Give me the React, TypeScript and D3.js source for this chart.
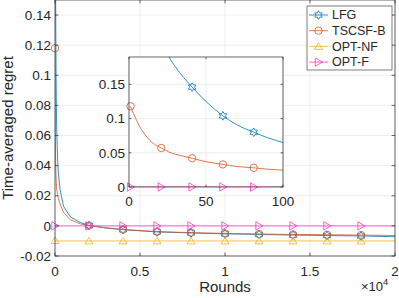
import React from 'react';
import * as d3 from 'd3';

// rounds (x) shared by every series
const T = [1, 2, 3, 5, 7, 9, 12, 15, 21, 26, 30, 41, 50, 61, 70, 81, 90, 100, 150, 200, 300, 500, 900, 1500,
  2001, 3000, 4001, 6001, 8001, 10001, 12001, 14001, 16001, 18001, 20000];

const LFG = [1.0, 0.75, 0.6, 0.45, 0.37, 0.32, 0.27, 0.24, 0.215, 0.19, 0.176, 0.146, 0.125, 0.104, 0.091, 0.08, 0.072, 0.065,
  0.045, 0.035, 0.024, 0.013, 0.006, 0.0022,
  0.0003, -0.0014, -0.0025, -0.004, -0.0047, -0.0053, -0.0057, -0.0061, -0.0064, -0.0067, -0.0072];
const TSCSF_B = [0.118, 0.112, 0.107, 0.097, 0.088, 0.081, 0.072, 0.065, 0.057, 0.051, 0.048, 0.042, 0.037, 0.033, 0.03, 0.028, 0.026, 0.0245,
  0.021, 0.018, 0.0145, 0.009, 0.004, 0.0013,
  0.0002, -0.0013, -0.0024, -0.0038, -0.0045, -0.005, -0.0054, -0.0057, -0.0059, -0.0061, -0.0064];
const OPT_NF = [-0.0097, -0.0099, -0.01, -0.01, -0.01, -0.01, -0.01, -0.01, -0.01, -0.01, -0.01, -0.01, -0.01, -0.01, -0.01, -0.01, -0.01, -0.01,
  -0.01, -0.01, -0.01, -0.01, -0.01, -0.01,
  -0.01, -0.01, -0.01, -0.01, -0.01, -0.01, -0.01, -0.01, -0.01, -0.01, -0.01];
const OPT_F = [0, 0, 0, 0, 0, 0, 0, 0, 0, 0, 0, 0, 0, 0, 0, 0, 0, 0,
  0, 0, 0, 0, 0, 0,
  0, 0, 0, 0, 0, 0, 0, 0, 0, 0, 0];

const SERIES_NAMES = ['LFG', 'TSCSF-B', 'OPT-NF', 'OPT-F'];
const SERIES_VALUES = [LFG, TSCSF_B, OPT_NF, OPT_F];

const MAIN_MARKS = [1, 2001, 4001, 6001, 8001, 10001, 12001, 14001, 16001, 18001];
const INSET_MARKS = [1, 21, 41, 61, 81];

const MAIN_X_TICKS = [0, 5000, 10000, 15000, 20000];
const MAIN_X_LABELS = ['0', '0.5', '1', '1.5', '2'];
const MAIN_Y_TICKS = [-0.02, 0, 0.02, 0.04, 0.06, 0.08, 0.1, 0.12, 0.14];
const MAIN_Y_LABELS = ['-0.02', '0', '0.02', '0.04', '0.06', '0.08', '0.1', '0.12', '0.14'];
const INSET_X_TICKS = [0, 50, 100];
const INSET_X_LABELS = ['0', '50', '100'];
const INSET_Y_TICKS = [0, 0.05, 0.1, 0.15];
const INSET_Y_LABELS = ['0', '0.05', '0.1', '0.15'];

const COLORS = ['#0072BD', '#D95319', '#EDB120', '#FF33CC'];
const MARKERS = ['hexagram', 'circle', 'up', 'right'];
const FONT = '"Liberation Sans", Arial, Helvetica, sans-serif';
const AX = '#262626';
const GRID = '#e3e3e3';

function markerPath(kind: string, cx: number, cy: number): string {
  if (kind === 'circle') {
    const p = d3.path();
    p.arc(cx, cy, 3.7, 0, Math.PI * 2);
    return p.toString();
  }
  if (kind === 'up') return `M${cx},${cy - 3.6}L${cx + 4},${cy + 3}L${cx - 4},${cy + 3}Z`;
  if (kind === 'right') return `M${cx + 3.8},${cy}L${cx - 3.2},${cy - 4.2}L${cx - 3.2},${cy + 4.2}Z`;
  // six pointed star
  const pts: string[] = [];
  const ro = 4.3, ri = ro / Math.sqrt(3);
  for (let k = 0; k < 12; k++) {
    const a = -Math.PI / 2 + (k * Math.PI) / 6;
    const r = k % 2 === 0 ? ro : ri;
    pts.push(`${cx + r * Math.cos(a)},${cy + r * Math.sin(a)}`);
  }
  return 'M' + pts.join('L') + 'Z';
}

export default function App() {
  // main axes
  const x = d3.scaleLinear().domain([0, 20000]).range([55, 395]);
  const y = d3.scaleLinear().domain([-0.02, 0.15]).range([256, 0]);
  // inset axes
  const ix = d3.scaleLinear().domain([0, 100]).range([129, 283]);
  const iy = d3.scaleLinear().domain([0, 0.19]).range([187, 57]);

  const mainLine = d3.line<number>().x((_, i) => x(T[i])).y((d) => y(d));
  const insetIdx = T.map((t, i) => i).filter((i) => T[i] <= 100);
  const insetLine = d3.line<number>().x((i) => ix(T[i])).y((i) => iy(0)).curve(d3.curveMonotoneX);

  const [x0, x1] = x.range();
  const [y0, y1] = y.range();
  const [ix0, ix1] = ix.range();
  const [iy0, iy1] = iy.range();
  const tick = 3.4, itick = 2.4;

  return (
    <svg width={399} height={298} style={{ position: 'absolute', left: 0, top: 0, background: '#fff' }}
      fontFamily={FONT}>
      <defs>
        <clipPath id="mainClip"><rect x={x0} y={y1} width={x1 - x0} height={y0 - y1} /></clipPath>
        <clipPath id="insetClip"><rect x={ix0} y={iy1} width={ix1 - ix0} height={iy0 - iy1} /></clipPath>
      </defs>
      <rect x={0} y={0} width={399} height={298} fill="#fff" />
      {/* main grid */}
      {MAIN_X_TICKS.map((t) => <line key={'gx' + t} x1={x(t)} x2={x(t)} y1={y0} y2={y1} stroke={GRID} strokeWidth={0.6} />)}
      {MAIN_Y_TICKS.map((t) => <line key={'gy' + t} x1={x0} x2={x1} y1={y(t)} y2={y(t)} stroke={GRID} strokeWidth={0.6} />)}

      {/* main series */}
      <g clipPath="url(#mainClip)">
        {SERIES_VALUES.map((vals, s) => (
          <path key={'ml' + s} d={mainLine(vals) || ''} fill="none" stroke={COLORS[s]} strokeWidth={0.8} />
        ))}
      </g>
      {SERIES_VALUES.map((vals, s) => (
        <g key={'mm' + s}>
          {T.map((t, i) => (MAIN_MARKS.includes(t) && vals[i] <= 0.15 && vals[i] >= -0.02)
            ? <path key={i} d={markerPath(MARKERS[s], x(t), y(vals[i]))} fill="none" stroke={COLORS[s]} strokeWidth={0.8} />
            : null)}
        </g>
      ))}

      {/* main box + ticks */}
      <rect x={x0} y={y1} width={x1 - x0} height={y0 - y1} fill="none" stroke={AX} strokeWidth={0.7} />
      {MAIN_X_TICKS.map((t) => (
        <g key={'tx' + t}>
          <line x1={x(t)} x2={x(t)} y1={y0} y2={y0 - tick} stroke={AX} strokeWidth={0.7} />
          <line x1={x(t)} x2={x(t)} y1={y1} y2={y1 + tick} stroke={AX} strokeWidth={0.7} />
        </g>
      ))}
      {MAIN_Y_TICKS.map((t) => (
        <g key={'ty' + t}>
          <line x1={x0} x2={x0 + tick} y1={y(t)} y2={y(t)} stroke={AX} strokeWidth={0.7} />
          <line x1={x1} x2={x1 - tick} y1={y(t)} y2={y(t)} stroke={AX} strokeWidth={0.7} />
        </g>
      ))}
      {MAIN_X_TICKS.map((t, i) => (
        <text key={'lx' + t} x={x(t)} y={276} textAnchor="middle" fontSize={13.5} fill={AX}>{MAIN_X_LABELS[i]}</text>
      ))}
      {MAIN_Y_TICKS.map((t, i) => (
        <text key={'ly' + t} x={x0 - 4} y={y(t)} dy="0.35em" textAnchor="end" fontSize={13.5} fill={AX}>{MAIN_Y_LABELS[i]}</text>
      ))}
      <text x={(x0 + x1) / 2} y={292} textAnchor="middle" fontSize={15} fill={AX}>Rounds</text>
      <text transform={`translate(13,${(y0 + y1) / 2}) rotate(-90)`} textAnchor="middle" fontSize={15} fill={AX}>Time-averaged regret</text>
      <text x={361} y={291} fontSize={13} fill={AX}>×10<tspan dy={-6} fontSize={9.5}>4</tspan></text>

      {/* inset */}
      <rect x={ix0} y={iy1} width={ix1 - ix0} height={iy0 - iy1} fill="#fff" />
      {INSET_X_TICKS.map((t) => <line key={'igx' + t} x1={ix(t)} x2={ix(t)} y1={iy0} y2={iy1} stroke={GRID} strokeWidth={0.6} />)}
      {INSET_Y_TICKS.map((t) => <line key={'igy' + t} x1={ix0} x2={ix1} y1={iy(t)} y2={iy(t)} stroke={GRID} strokeWidth={0.6} />)}
      <g clipPath="url(#insetClip)">
        {SERIES_VALUES.map((vals, s) => (
          <path key={'il' + s}
            d={insetLine.y((i) => iy(vals[i]))(insetIdx) || ''}
            fill="none" stroke={COLORS[s]} strokeWidth={0.8} />
        ))}
      </g>
      {SERIES_VALUES.map((vals, s) => (
        <g key={'im' + s}>
          {T.map((t, i) => (INSET_MARKS.includes(t) && vals[i] <= 0.19 && vals[i] >= 0)
            ? <path key={i} d={markerPath(MARKERS[s], ix(t), iy(vals[i]))} fill="none" stroke={COLORS[s]} strokeWidth={0.8} />
            : null)}
        </g>
      ))}
      <rect x={ix0} y={iy1} width={ix1 - ix0} height={iy0 - iy1} fill="none" stroke={AX} strokeWidth={0.7} />
      {INSET_X_TICKS.map((t) => (
        <g key={'itx' + t}>
          <line x1={ix(t)} x2={ix(t)} y1={iy0} y2={iy0 - itick} stroke={AX} strokeWidth={0.7} />
          <line x1={ix(t)} x2={ix(t)} y1={iy1} y2={iy1 + itick} stroke={AX} strokeWidth={0.7} />
        </g>
      ))}
      {INSET_Y_TICKS.map((t) => (
        <g key={'ity' + t}>
          <line x1={ix0} x2={ix0 + itick} y1={iy(t)} y2={iy(t)} stroke={AX} strokeWidth={0.7} />
          <line x1={ix1} x2={ix1 - itick} y1={iy(t)} y2={iy(t)} stroke={AX} strokeWidth={0.7} />
        </g>
      ))}
      {INSET_X_TICKS.map((t, i) => (
        <text key={'ilx' + t} x={ix(t)} y={206} textAnchor="middle" fontSize={13.5} fill={AX}>{INSET_X_LABELS[i]}</text>
      ))}
      {INSET_Y_TICKS.map((t, i) => (
        <text key={'ily' + t} x={ix0 - 4} y={iy(t)} dy="0.35em" textAnchor="end" fontSize={13.5} fill={AX}>{INSET_Y_LABELS[i]}</text>
      ))}

      {/* legend */}
      <rect x={307} y={6} width={85} height={64} fill="#fff" stroke={AX} strokeWidth={0.6} />
      {SERIES_NAMES.map((name, s) => {
        const ly = 15 + s * 15.7;
        return (
          <g key={'lg' + s}>
            <line x1={309} x2={328} y1={ly} y2={ly} stroke={COLORS[s]} strokeWidth={0.8} />
            <path d={markerPath(MARKERS[s], 318.5, ly)} fill="none" stroke={COLORS[s]} strokeWidth={0.8} />
            <text x={332} y={ly} dy="0.35em" fontSize={12.5} fill={AX}>{name}</text>
          </g>
        );
      })}
    </svg>
  );
}
